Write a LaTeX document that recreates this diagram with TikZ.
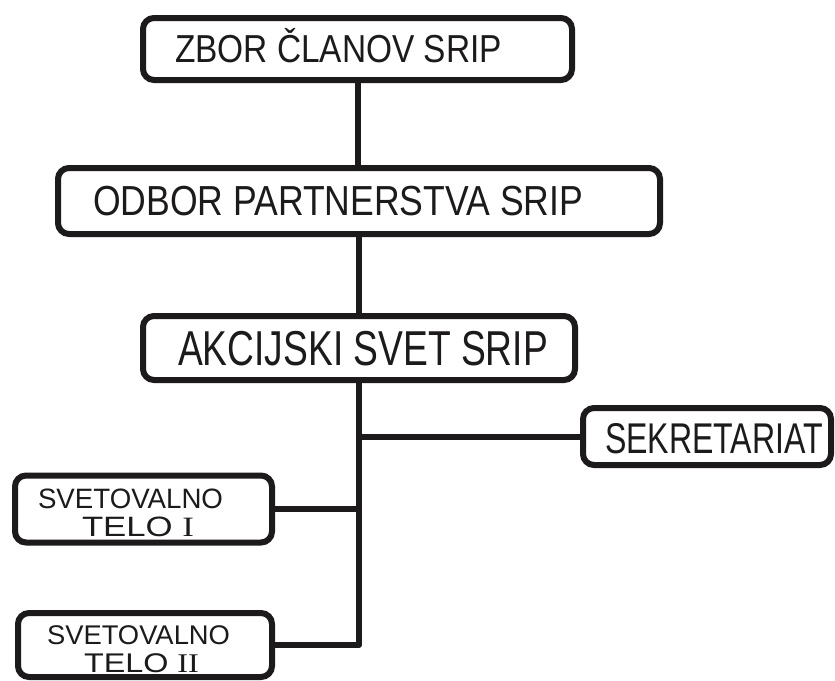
\documentclass[tikz,border=0pt]{standalone}
\usepackage{fontspec}
\setmainfont{Liberation Sans}
\newfontfamily\numfont{Liberation Serif}
\definecolor{ink}{RGB}{28,26,26}
\newcommand{\hwtext}[3]{\resizebox{#1pt}{\height}{\fontsize{#2}{#2}\selectfont #3}}
\begin{document}
\begin{tikzpicture}[x=1pt,y=-1pt,
  box/.style={draw=ink, line width=6pt, rounded corners=11pt, inner sep=0pt, outer sep=0pt},
  link/.style={draw=ink, line width=6pt, line join=round},
  lbl/.style={inner sep=0pt, outer sep=0pt, text=ink, anchor=base west}]
\fill[white] (0,0) rectangle (835,680);
\useasboundingbox (0,0) rectangle (835,680);

% boxes
\node[box, minimum width=429pt, minimum height=62pt] (b1) at (357.5,49) {};
\node[box, minimum width=602pt, minimum height=66pt] (b2) at (359,201) {};
\node[box, minimum width=432pt, minimum height=64pt] (b3) at (359,348) {};
\node[box, minimum width=248pt, minimum height=57pt] (sek) at (707,436.5) {};
\node[box, minimum width=257pt, minimum height=67pt] (s1) at (143.5,509) {};
\node[box, minimum width=254pt, minimum height=64pt] (s2) at (145,645) {};

% texts
\node[lbl] (t1) at (175,63) {\hwtext{327}{39}{ZBOR ČLANOV SRIP}};
\node[lbl] (t2) at (93,215) {\hwtext{490}{42}{ODBOR PARTNERSTVA SRIP}};
\node[lbl] (t3) at (178,365) {\hwtext{370}{49}{AKCIJSKI SVET SRIP}};
\node[lbl] (t4) at (605,453) {\hwtext{218}{43}{SEKRETARIAT}};
\node[lbl] (t5a) at (38,508) {\hwtext{185}{28}{SVETOVALNO}};
\node[lbl] (t5b) at (82,536) {\hwtext{112}{28}{TELO {\numfont I}}};
\node[lbl] (t6a) at (47,644) {\hwtext{183}{27}{SVETOVALNO}};
\node[lbl] (t6b) at (84,672) {\hwtext{115}{27}{TELO {\numfont II}}};

% connectors
\draw[link] (b1.south) -- (b1.south |- b2.north);
\draw[link] (b2.south) -- (b2.south |- b3.north);
\draw[link] (b3.south) |- (s2.east);
\draw[link] (s1.east) -- (s1.east -| b3.south);
\draw[link] (sek.west) -- (sek.west -| b3.south);
\end{tikzpicture}
\end{document}
